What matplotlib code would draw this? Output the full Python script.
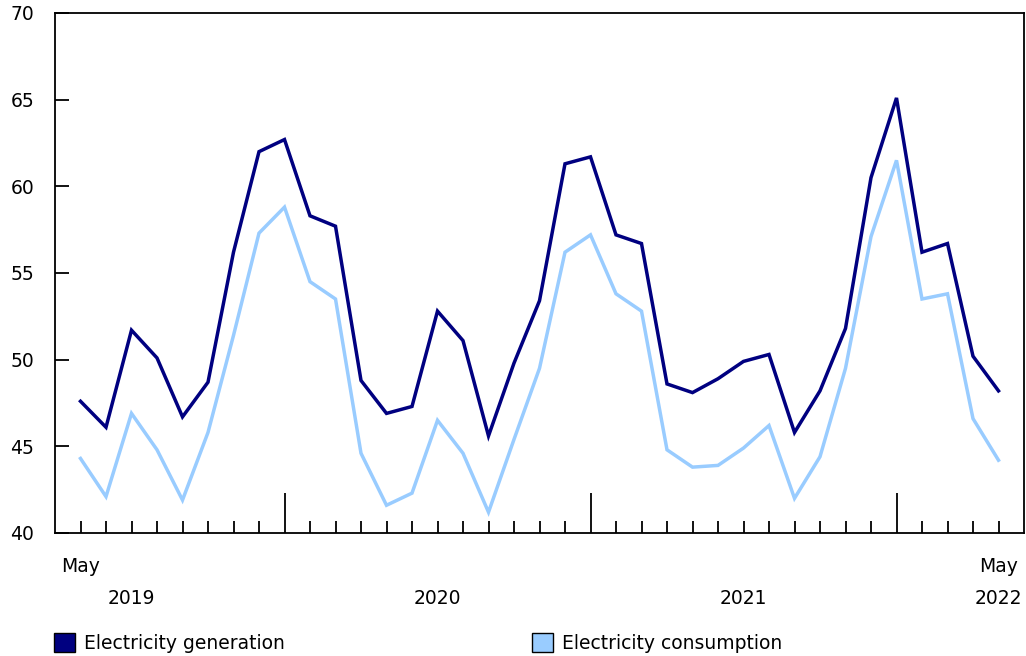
import numpy as np
from matplotlib import pyplot as plt
from matplotlib.patches import Patch
import matplotlib.transforms as mtransforms

# Monthly values, May 2019 to May 2022
months = ['May', 'Jun', 'Jul', 'Aug', 'Sep', 'Oct', 'Nov', 'Dec'] + \
         ['Jan', 'Feb', 'Mar', 'Apr', 'May', 'Jun', 'Jul', 'Aug', 'Sep', 'Oct', 'Nov', 'Dec'] * 2 + \
         ['Jan', 'Feb', 'Mar', 'Apr', 'May']
generation = [47.6, 46.1, 51.7, 50.1, 46.7, 48.7, 56.2, 62.0,
              62.7, 58.3, 57.7, 48.8, 46.9, 47.3, 52.8, 51.1, 45.6, 49.8, 53.4, 61.3,
              61.7, 57.2, 56.7, 48.6, 48.1, 48.9, 49.9, 50.3, 45.8, 48.2, 51.8, 60.5,
              65.1, 56.2, 56.7, 50.2, 48.2]
consumption = [44.3, 42.1, 46.9, 44.8, 41.9, 45.8, 51.4, 57.3,
               58.8, 54.5, 53.5, 44.6, 41.6, 42.3, 46.5, 44.6, 41.2, 45.4, 49.5, 56.2,
               57.2, 53.8, 52.8, 44.8, 43.8, 43.9, 44.9, 46.2, 42.0, 44.4, 49.5, 57.1,
               61.5, 53.5, 53.8, 46.6, 44.2]
year_labels = ['2019', '2020', '2021', '2022']
year_label_pos = [2, 14, 26, 36]

GEN_COLOR = '#000080'
CON_COLOR = '#99CCFF'
FS = 13.5

plt.rcParams['font.family'] = 'DejaVu Sans'
plt.rcParams['font.size'] = FS

fig = plt.figure(figsize=(10.26, 6.56), dpi=100)
ax = fig.add_axes([55 / 1026, 123 / 656, 969 / 1026, 520 / 656])

x = np.arange(len(generation))
ax.plot(x, generation, color=GEN_COLOR, lw=2.5, solid_joinstyle='miter')
ax.plot(x, consumption, color=CON_COLOR, lw=2.5, solid_joinstyle='miter')

ax.set_xlim(-1, len(generation))
ax.set_ylim(40, 70)
ax.set_yticks([40, 45, 50, 55, 60, 65, 70])
ax.tick_params(axis='y', direction='in', length=10, width=1.3, pad=15, labelsize=FS)

jan = [i for i, m in enumerate(months) if m == 'Jan']
other = [i for i, m in enumerate(months) if m != 'Jan']
ax.set_xticks(jan)
ax.set_xticks(other, minor=True)
ax.tick_params(axis='x', which='major', direction='in', length=29, width=1.3, labelbottom=False)
ax.tick_params(axis='x', which='minor', direction='in', length=9, width=1.3)

for s in ax.spines.values():
    s.set_linewidth(1.3)

trans = mtransforms.blended_transform_factory(ax.transData, ax.transAxes)
ax.text(0, -0.065, months[0], transform=trans, ha='center', va='center', fontsize=FS)
ax.text(len(months) - 1, -0.065, months[-1], transform=trans, ha='center', va='center', fontsize=FS)
for lab, p in zip(year_labels, year_label_pos):
    ax.text(p, -0.125, lab, transform=trans, ha='center', va='center', fontsize=FS)

handles = [Patch(facecolor=GEN_COLOR, edgecolor='black', label='Electricity generation'),
           Patch(facecolor=CON_COLOR, edgecolor='black', label='Electricity consumption')]
fig.legend(handles=handles, loc='center left', bbox_to_anchor=(46 / 1026, 1 - 643 / 656),
           ncol=2, frameon=False, handlelength=1.15, handleheight=1.2, handletextpad=0.45,
           columnspacing=13.2, fontsize=FS, borderaxespad=0)

fig.savefig('out.png', dpi=100)
